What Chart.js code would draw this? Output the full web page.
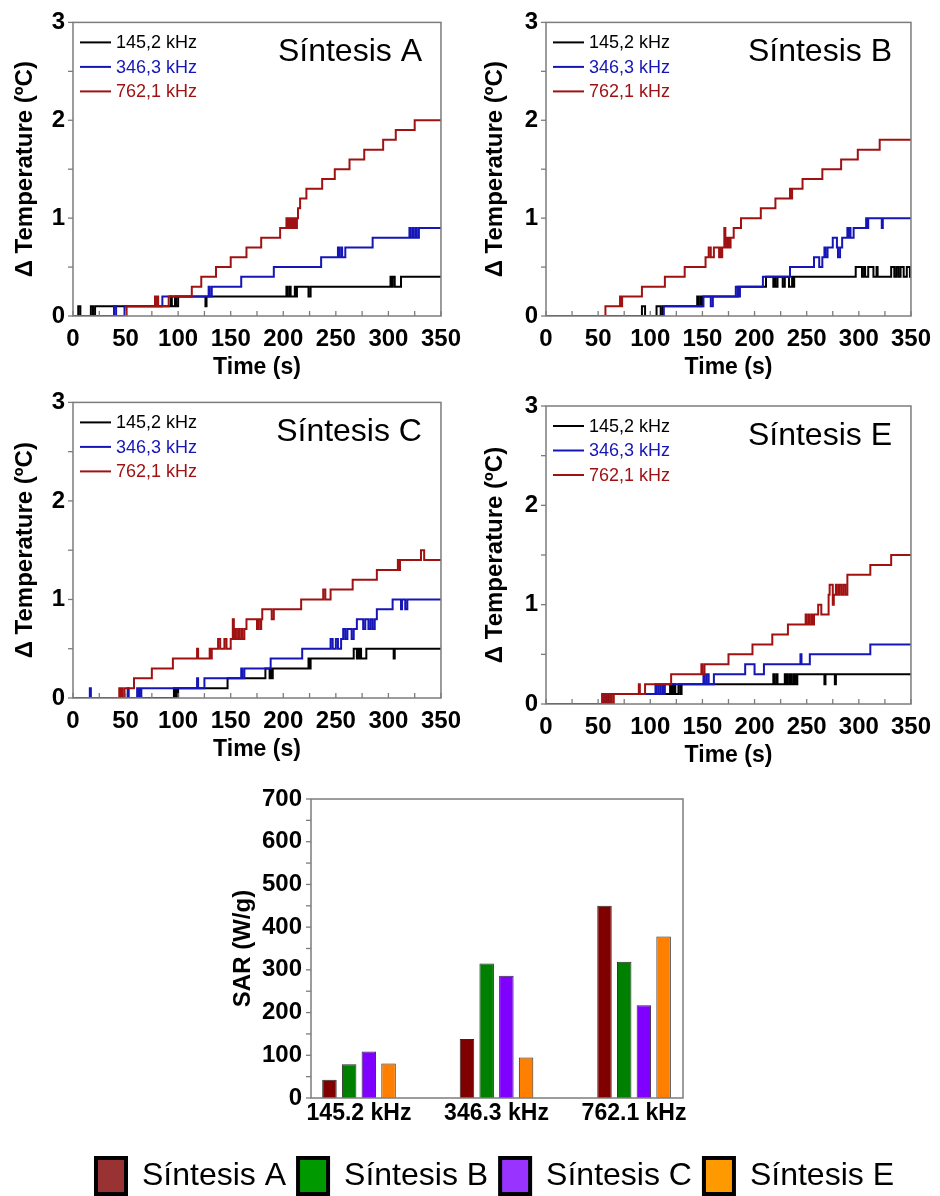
<!DOCTYPE html>
<html><head><meta charset="utf-8">
<script src="https://cdn.jsdelivr.net/npm/chart.js@4.4.1/dist/chart.umd.min.js"></script>
<style>
html,body{margin:0;padding:0;background:#fff;overflow:hidden;width:940px;height:1196px;}
canvas{position:absolute;}
</style></head><body>
<canvas id="pA" width="470" height="380" style="left:0;top:0"></canvas>
<canvas id="pB" width="470" height="380" style="left:470px;top:0"></canvas>
<canvas id="pC" width="470" height="382" style="left:0;top:380px"></canvas>
<canvas id="pE" width="470" height="388" style="left:470px;top:380px"></canvas>
<canvas id="bar" width="890" height="434" style="left:50px;top:770px"></canvas>
<script>
// ---------- DATA ----------
const freqNames = ['145,2 kHz', '346,3 kHz', '762,1 kHz'];
const synthNames = ['Síntesis A', 'Síntesis B', 'Síntesis C', 'Síntesis E'];
const sarLabels = ['145.2 kHz', '346.3 kHz', '762.1 kHz'];

// Síntesis A
const A145_t = [0,5,7,17,19,21,93,94,97,98,100,126,127,203,204,206,207,211,212,213,224,226,302,303,304,306,312,350];
const A145_v = [0,0.1,0,0.1,0,0.1,0.2,0.1,0.2,0.1,0.2,0.1,0.2,0.3,0.2,0.3,0.2,0.3,0.2,0.3,0.2,0.3,0.4,0.3,0.4,0.3,0.4,0.4];
const A346_t = [0,39,41,49,85,129,130,132,160,191,236,252,253,255,256,259,285,320,321,323,324,326,327,329,350];
const A346_v = [0,0.1,0,0.1,0.2,0.3,0.2,0.3,0.4,0.5,0.6,0.7,0.6,0.7,0.6,0.7,0.8,0.9,0.8,0.9,0.8,0.9,0.8,0.9,0.9];
const A762_t = [0,51,78,79,80,81,91,113,122,136,150,165,179,197,203,204,205,206,207,208,209,210,211,212,213,214,216,222,237,249,263,277,295,307,325,350];
const A762_v = [0,0.1,0.2,0.1,0.2,0.1,0.2,0.3,0.4,0.5,0.6,0.7,0.8,0.9,1.0,0.9,1.0,0.9,1.0,0.9,1.0,0.9,1.0,0.9,1.0,1.1,1.2,1.3,1.4,1.5,1.6,1.7,1.8,1.9,2.0,2.0];

// Síntesis B
const B145_t = [0,92,95,106,110,112,145,146,148,149,150,184,211,218,219,220,222,227,229,233,236,237,238,297,303,305,306,309,314,317,318,331,334,336,338,340,343,346,349,350];
const B145_v = [0,0.1,0,0.1,0,0.1,0.2,0.1,0.2,0.1,0.2,0.3,0.4,0.3,0.4,0.3,0.4,0.3,0.4,0.3,0.4,0.3,0.4,0.5,0.4,0.5,0.4,0.5,0.4,0.5,0.4,0.5,0.4,0.5,0.4,0.5,0.4,0.5,0.4,0.4];
const B346_t = [0,113,151,158,160,182,184,186,208,234,257,262,265,267,268,270,275,279,280,282,284,289,290,291,292,295,307,308,309,322,323,350];
const B346_v = [0,0.1,0.2,0.1,0.2,0.3,0.2,0.3,0.4,0.5,0.6,0.5,0.6,0.7,0.6,0.7,0.8,0.7,0.6,0.7,0.8,0.9,0.8,0.9,0.8,0.9,1.0,0.9,1.0,0.9,1.0,1.0];
const B762_t = [0,57,71,72,73,92,114,133,153,156,158,161,166,167,168,169,171,172,173,174,175,176,177,180,187,206,220,234,235,236,246,265,283,299,320,350];
const B762_v = [0,0.1,0.2,0.1,0.2,0.3,0.4,0.5,0.6,0.7,0.6,0.7,0.6,0.7,0.6,0.7,0.9,0.7,0.8,0.7,0.8,0.7,0.8,0.9,1.0,1.1,1.2,1.3,1.2,1.3,1.4,1.5,1.6,1.7,1.8,1.8];

// Síntesis C
const C145_t = [0,96,97,98,99,100,147,183,187,188,189,190,224,225,226,267,270,271,272,273,274,279,305,306,350];
const C145_v = [0,0.1,0,0.1,0,0.1,0.2,0.3,0.2,0.3,0.2,0.3,0.4,0.3,0.4,0.5,0.4,0.5,0.4,0.5,0.4,0.5,0.4,0.5,0.5];
const C346_t = [0,16,17,52,53,61,62,63,64,65,118,119,125,160,161,163,188,218,245,247,250,252,255,257,259,261,265,267,270,276,278,281,283,285,287,289,304,312,313,316,318,350];
const C346_v = [0,0.1,0,0.1,0,0.1,0,0.1,0,0.1,0.2,0.1,0.2,0.3,0.2,0.3,0.4,0.5,0.6,0.5,0.6,0.5,0.6,0.7,0.6,0.7,0.6,0.7,0.8,0.7,0.8,0.7,0.8,0.7,0.8,0.9,1.0,0.9,1.0,0.9,1.0,1.0];
const C762_t = [0,44,45,46,47,49,58,75,95,118,119,130,131,132,138,140,144,146,150,152,153,154,155,157,158,160,161,163,165,175,176,178,179,180,189,191,217,238,240,245,266,289,309,310,311,331,334,350];
const C762_v = [0,0.1,0,0.1,0,0.1,0.2,0.3,0.4,0.5,0.4,0.5,0.4,0.5,0.6,0.5,0.6,0.5,0.6,0.8,0.6,0.7,0.6,0.7,0.6,0.7,0.6,0.7,0.8,0.7,0.8,0.7,0.8,0.9,0.8,0.9,1.0,1.1,1.0,1.1,1.2,1.3,1.4,1.3,1.4,1.5,1.4,1.4];

// Síntesis E
const E145_t = [0,56,57,59,60,61,119,120,121,122,123,124,127,129,130,218,219,221,222,229,230,231,232,234,235,237,238,239,240,241,267,268,277,278,350];
const E145_v = [0,0.1,0,0.1,0,0.1,0.2,0.1,0.2,0.1,0.2,0.1,0.2,0.1,0.2,0.3,0.2,0.3,0.2,0.3,0.2,0.3,0.2,0.3,0.2,0.3,0.2,0.3,0.2,0.3,0.2,0.3,0.2,0.3,0.3];
const E346_t = [0,54,56,57,105,106,108,110,112,113,114,151,152,154,156,161,191,200,209,244,245,253,311,350];
const E346_v = [0,0.1,0,0.1,0.2,0.1,0.2,0.1,0.2,0.1,0.2,0.3,0.2,0.3,0.2,0.3,0.4,0.3,0.4,0.5,0.4,0.5,0.6,0.6];
const E762_t = [0,54,55,57,59,61,63,65,89,90,95,120,149,150,152,175,198,217,232,249,250,252,253,255,256,257,261,264,271,272,275,276,278,279,281,283,285,287,289,311,331,350];
const E762_v = [0,0.1,0,0.1,0,0.1,0,0.1,0.2,0.1,0.2,0.3,0.4,0.3,0.4,0.5,0.6,0.7,0.8,0.9,0.8,0.9,0.8,0.9,0.8,0.9,1.0,0.9,1.1,1.2,1.0,1.1,1.2,1.1,1.2,1.1,1.2,1.1,1.3,1.4,1.5,1.5];

// SAR (W/g) per synthesis, for 145.2 / 346.3 / 762.1 kHz
const sarA = [43, 138, 450];
const sarB = [79, 315, 319];
const sarC = [109, 286, 217];
const sarE = [81, 95, 378];

// ---------- STYLE ----------
const FONT = "'Liberation Sans', Arial, sans-serif";
const lineColors = ['#000000', '#1616b8', '#a01212'];
const barColors = ['#800000', '#008000', '#8000ff', '#ff8000'];
const legendFill = ['#993333', '#009900', '#9933ff', '#ff9900'];
const frameColor = '#7c7c7c';

// ---------- PLUGINS ----------
const framePlugin = {
  id: 'frame',
  afterDatasetsDraw(chart) {
    const {ctx, chartArea: a} = chart;
    ctx.save();
    ctx.strokeStyle = frameColor; ctx.lineWidth = 1.5;
    ctx.strokeRect(a.left, a.top, a.right - a.left, a.bottom - a.top);
    ctx.restore();
  }
};
const tickPlugin = {
  id: 'tickMarks',
  afterDatasetsDraw(chart, args, opts) {
    const {ctx, chartArea: a} = chart;
    ctx.save();
    ctx.strokeStyle = frameColor; ctx.lineWidth = 1.3;
    (opts.axes || []).forEach(ax => {
      const s = chart.scales[ax.id];
      const n = Math.round((s.max - s.min) / ax.step);
      for (let k = 0; k <= n; k++) {
        const v = s.min + k * ax.step;
        const isMajor = Math.abs(v / ax.major - Math.round(v / ax.major)) < 1e-6;
        const len = isMajor ? ax.len : ax.minorLen;
        const p = s.getPixelForValue(v);
        ctx.beginPath();
        if (s.isHorizontal()) { ctx.moveTo(p, a.bottom); ctx.lineTo(p, a.bottom + ax.dir * len); }
        else { ctx.moveTo(a.left - ax.out, p); ctx.lineTo(a.left + ax.dir * len, p); }
        ctx.stroke();
      }
    });
    ctx.restore();
  }
};
const panelDecor = {
  id: 'panelDecor',
  afterDraw(chart, args, opts) {
    if (!opts.title) return;
    const {ctx, chartArea: a} = chart;
    ctx.save();
    ctx.font = '32px ' + FONT;
    ctx.fillStyle = '#000'; ctx.textAlign = 'right'; ctx.textBaseline = 'alphabetic';
    ctx.fillText(opts.title, a.right - 19, a.top + 39);
    ctx.font = '18px ' + FONT;
    ctx.textAlign = 'left'; ctx.textBaseline = 'middle';
    chart.data.datasets.forEach((ds, i) => {
      const y = a.top + 20 + i * 24.5;
      ctx.strokeStyle = ds.borderColor; ctx.lineWidth = 2;
      ctx.beginPath(); ctx.moveTo(a.left + 7, y); ctx.lineTo(a.left + 38, y); ctx.stroke();
      ctx.fillStyle = ds.borderColor;
      ctx.fillText(ds.label, a.left + 43, y + 1);
    });
    ctx.restore();
  }
};

// ---------- PANELS ----------
function makePanel(id, title, series, box) {
  const cv = document.getElementById(id);
  const W = cv.width, H = cv.height;
  new Chart(cv, {
    type: 'line',
    data: {
      datasets: series.map((s, i) => ({
        label: freqNames[i],
        data: s[0].map((t, j) => ({x: t, y: s[1][j]})),
        borderColor: lineColors[i], backgroundColor: lineColors[i],
        borderWidth: 2, pointRadius: 0, stepped: true, tension: 0, order: 2 - i, fill: false
      }))
    },
    options: {
      responsive: false, animation: false, devicePixelRatio: 1,
      layout: {padding: {top: box.top, right: W - box.right, left: 0, bottom: 0}},
      plugins: {
        legend: {display: false}, tooltip: {enabled: false},
        panelDecor: {title: title},
        tickMarks: {axes: [
          {id: 'x', step: 25, major: 50, len: 5, minorLen: 5, dir: -1, out: 0},
          {id: 'y', step: 0.5, major: 1, len: 0, minorLen: 0, dir: 1, out: 5}
        ]}
      },
      scales: {
        x: {
          type: 'linear', min: 0, max: 350,
          ticks: {stepSize: 50, padding: 9, color: '#000', maxRotation: 0, font: {family: FONT, size: 24, weight: 'bold'}},
          grid: {display: false, drawTicks: false}, border: {display: false},
          title: {display: true, text: 'Time (s)', color: '#000', padding: {top: 0, bottom: 1}, font: {family: FONT, size: 23, weight: 'bold', lineHeight: 1}},
          afterFit: s => { s.height = H - box.bottom; }
        },
        y: {
          type: 'linear', min: 0, max: 3,
          ticks: {stepSize: 1, padding: 8, color: '#000', font: {family: FONT, size: 24, weight: 'bold'}},
          grid: {display: false, drawTicks: false}, border: {display: false},
          title: {display: true, text: 'Δ Temperature (ºC)', color: '#000', padding: {top: 13, bottom: 0}, font: {family: FONT, size: 24, weight: 'bold', lineHeight: 1}},
          afterFit: s => { s.width = box.left; }
        }
      }
    },
    plugins: [panelDecor, framePlugin, tickPlugin]
  });
}

makePanel('pA', 'Síntesis A', [[A145_t, A145_v], [A346_t, A346_v], [A762_t, A762_v]], {left: 73, right: 445, top: 18, bottom: 316});
makePanel('pB', 'Síntesis B', [[B145_t, B145_v], [B346_t, B346_v], [B762_t, B762_v]], {left: 76, right: 447, top: 17, bottom: 316});
makePanel('pC', 'Síntesis C', [[C145_t, C145_v], [C346_t, C346_v], [C762_t, C762_v]], {left: 73, right: 445, top: 21, bottom: 318});
makePanel('pE', 'Síntesis E', [[E145_t, E145_v], [E346_t, E346_v], [E762_t, E762_v]], {left: 76, right: 447, top: 26, bottom: 324});

// ---------- BAR CHART ----------
const sarSeries = [sarA, sarB, sarC, sarE];
new Chart(document.getElementById('bar'), {
  type: 'bar',
  data: {
    datasets: sarSeries.map((vals, i) => ({
      label: synthNames[i],
      data: vals.map((v, j) => ({x: j + 1, y: v})),
      backgroundColor: barColors[i], borderColor: '#2b2b2b', borderWidth: 1,
      categoryPercentage: 0.573, barPercentage: 0.736
    }))
  },
  options: {
    responsive: false, animation: false, devicePixelRatio: 1,
    layout: {padding: {top: 29, left: 0, right: 0, bottom: 0}},
    plugins: {
      tooltip: {enabled: false},
      legend: {
        position: 'bottom',
        labels: {
          boxWidth: 30, boxHeight: 36, padding: 12, color: '#000',
          font: {family: FONT, size: 32},
          generateLabels: chart => chart.data.datasets.map((ds, i) => ({
            text: ds.label, fillStyle: legendFill[i], strokeStyle: '#000', lineWidth: 4,
            datasetIndex: i, hidden: false
          }))
        }
      },
      tickMarks: {axes: [{id: 'y', step: 50, major: 100, len: 0, minorLen: 0, dir: 1, out: 5}]}
    },
    scales: {
      x: {
        type: 'linear', min: 0.651, max: 3.356, offset: false,
        afterBuildTicks: s => { s.ticks = sarLabels.map((_, i) => ({value: i + 1})); },
        ticks: {padding: 2, color: '#000', maxRotation: 0, autoSkip: false, font: {family: FONT, size: 23, weight: 'bold'},
                callback: v => sarLabels[v - 1]},
        grid: {display: false, drawTicks: false}, border: {display: false},
        afterFit: s => { s.height = 48; }
      },
      y: {
        min: 0, max: 700,
        ticks: {stepSize: 100, padding: 9, color: '#000', font: {family: FONT, size: 24, weight: 'bold'}},
        grid: {display: false, drawTicks: false}, border: {display: false},
        title: {display: true, text: 'SAR (W/g)', color: '#000', padding: {top: 181, bottom: 0}, font: {family: FONT, size: 24, weight: 'bold', lineHeight: 1}},
        afterFit: s => { s.width = 261; }
      },
      yR: {
        position: 'right', display: true,
        ticks: {display: false}, grid: {display: false, drawTicks: false}, border: {display: false},
        afterFit: s => { s.width = 257; }
      }
    }
  },
  plugins: [framePlugin, tickPlugin]
});
</script>
</body></html>
